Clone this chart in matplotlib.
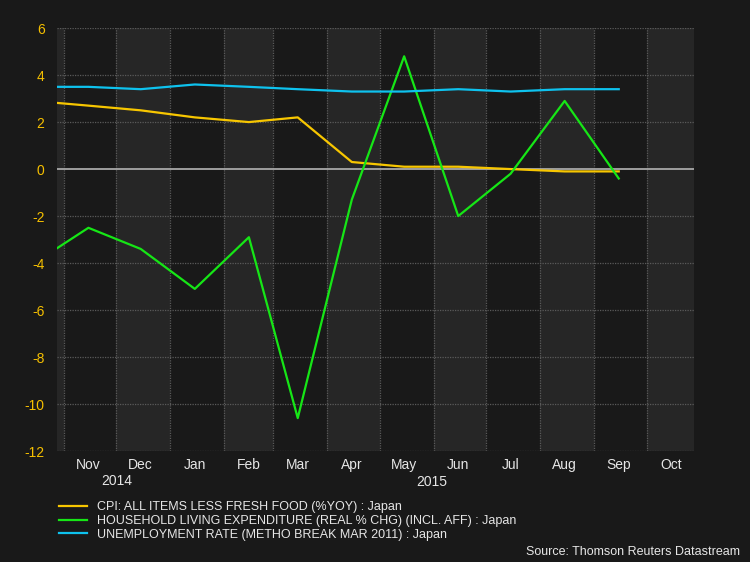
import datetime as dt
import matplotlib
matplotlib.use('Agg')
import matplotlib.pyplot as plt
import matplotlib.transforms as mtransforms

# monthly data, Oct 2014 .. Sep 2015
months = [dt.date(2014, 10, 15), dt.date(2014, 11, 15), dt.date(2014, 12, 15),
          dt.date(2015, 1, 15), dt.date(2015, 2, 15), dt.date(2015, 3, 15),
          dt.date(2015, 4, 15), dt.date(2015, 5, 15), dt.date(2015, 6, 15),
          dt.date(2015, 7, 15), dt.date(2015, 8, 15), dt.date(2015, 9, 15)]
cpi = [2.9, 2.7, 2.5, 2.2, 2.0, 2.2, 0.3, 0.1, 0.1, 0.0, -0.1, -0.1]
household = [-4.0, -2.5, -3.4, -5.1, -2.9, -10.6, -1.3, 4.8, -2.0, -0.2, 2.9, -0.4]
unemployment = [3.5, 3.5, 3.4, 3.6, 3.5, 3.4, 3.3, 3.3, 3.4, 3.3, 3.4, 3.4]

series_labels = ['CPI: ALL ITEMS LESS FRESH FOOD (%YOY) : Japan',
                 'HOUSEHOLD LIVING EXPENDITURE (REAL % CHG) (INCL. AFF) : Japan',
                 'UNEMPLOYMENT RATE (METHO BREAK MAR 2011) : Japan']
month_labels = ['Nov', 'Dec', 'Jan', 'Feb', 'Mar', 'Apr', 'May', 'Jun', 'Jul', 'Aug', 'Sep', 'Oct']
year_labels = ['2014', '2015']

bg = '#191919'
band = '#262626'
plt.rcParams['font.family'] = ['Liberation Sans', 'DejaVu Sans']
plt.rcParams['axes.unicode_minus'] = False

fig = plt.figure(figsize=(7.5, 5.62), dpi=100, facecolor=bg)
ax = fig.add_axes([0.076, 0.1975, 0.849, 0.7525])
ax.set_facecolor(bg)

# alternating month bands and month boundary grid
starts = [dt.date(2014, 10, 1)]
for i in range(13):
    d = starts[-1]
    starts.append(dt.date(d.year + (d.month // 12), d.month % 12 + 1, 1))
for i in range(len(starts) - 1):
    if i % 2 == 0:
        ax.axvspan(starts[i], starts[i + 1], color=band, lw=0, zorder=0)
    ax.axvline(starts[i], color='#5a5a5a', lw=0.9, ls=(0, (1, 1)), zorder=1)

for y in range(-12, 7, 2):
    if y != 0:
        ax.axhline(y, color='#5a5a5a', lw=0.9, ls=(0, (1, 1)), zorder=1)
ax.axhline(0, color='#a8a8a8', lw=1.3, zorder=2)

ax.plot(months, cpi, color='#f7c600', lw=1.6, label=series_labels[0], zorder=3)
ax.plot(months, household, color='#16e616', lw=1.6, label=series_labels[1], zorder=3)
ax.plot(months, unemployment, color='#0ec2ee', lw=1.6, label=series_labels[2], zorder=3)

ax.set_xlim(dt.date(2014, 10, 28), dt.date(2015, 10, 28))
ax.set_ylim(-12, 6)
ax.set_yticks(range(-12, 7, 2))
ax.tick_params(axis='y', colors='#f5bf00', labelsize=10, length=0, pad=9)

tick_dates = [dt.date(2014, 11, 15), dt.date(2014, 12, 15)] + \
    [dt.date(2015, m, 15) for m in range(1, 11)]
ax.set_xticks(tick_dates)
ax.set_xticklabels(month_labels)
ax.tick_params(axis='x', colors='#e6e6e6', labelsize=10, length=0, pad=5)
for s in ax.spines.values():
    s.set_visible(False)

trans = mtransforms.blended_transform_factory(ax.transData, fig.transFigure)
ax.text(dt.date(2014, 12, 1), 1 - 481 / 562, year_labels[0], transform=trans,
        ha='center', va='center', color='#e6e6e6', fontsize=10)
ax.text(dt.date(2015, 5, 31), 1 - 482 / 562, year_labels[1], transform=trans,
        ha='center', va='center', color='#e6e6e6', fontsize=10)

leg = fig.legend(loc='upper left', bbox_to_anchor=(0.078, 1 - 501 / 562),
                 frameon=False, fontsize=9, handlelength=2.25, handletextpad=0.85,
                 labelspacing=0.15, borderaxespad=0, borderpad=0)
for t in leg.get_texts():
    t.set_color('#e6e6e6')

fig.text(0.987, 1 - 552 / 562, 'Source: Thomson Reuters Datastream',
         ha='right', va='center', color='#e6e6e6', fontsize=9)

fig.savefig('out.png', dpi=100, facecolor=bg)
